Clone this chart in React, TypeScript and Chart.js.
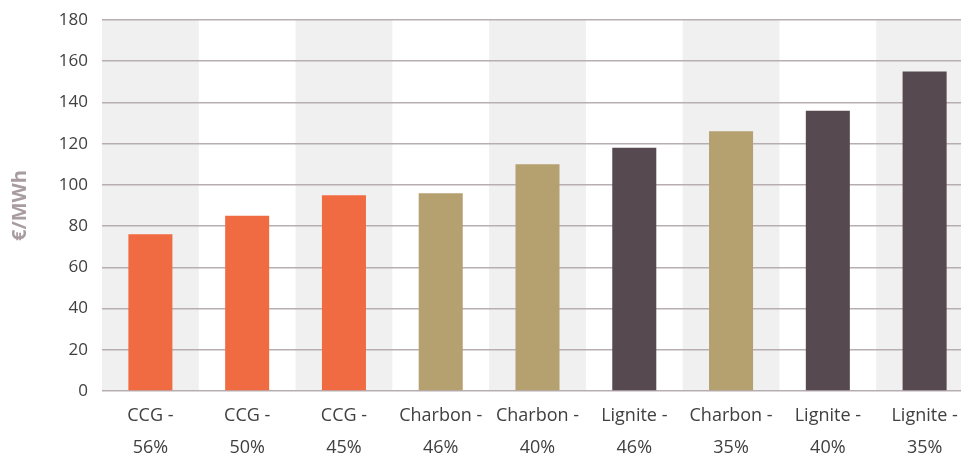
import React, { useEffect, useRef } from "react";
import { Chart, registerables } from "chart.js";

Chart.register(...registerables);

const categories: string[][] = [
  ["CCG -", "56%"],
  ["CCG -", "50%"],
  ["CCG -", "45%"],
  ["Charbon -", "46%"],
  ["Charbon -", "40%"],
  ["Lignite -", "46%"],
  ["Charbon -", "35%"],
  ["Lignite -", "40%"],
  ["Lignite -", "35%"],
];
const costs: number[] = [76, 85, 95, 96, 110, 118, 126, 136, 155];
const fuels: string[] = ["CCG", "CCG", "CCG", "Charbon", "Charbon", "Lignite", "Charbon", "Lignite", "Lignite"];
const fuelColors: Record<string, string> = {
  CCG: "#F06B42",
  Charbon: "#B5A16F",
  Lignite: "#574950",
};
const yTicks: number[] = [0, 20, 40, 60, 80, 100, 120, 140, 160, 180];

// Alternating grey column bands behind each category
const bandsPlugin = {
  id: "bands",
  beforeDraw(chart: any) {
    const { ctx, chartArea, scales } = chart;
    const x = scales.x;
    const n = chart.data.labels.length;
    const w = (chartArea.right - chartArea.left) / n;
    ctx.save();
    ctx.fillStyle = "#F0F0F0";
    for (let i = 0; i < n; i += 2) {
      const cx = x.getPixelForValue(i);
      ctx.fillRect(cx - w / 2, chartArea.top, w, chartArea.bottom - chartArea.top);
    }
    ctx.restore();
  },
};

export default function App() {
  const ref = useRef<HTMLCanvasElement>(null);

  useEffect(() => {
    if (!ref.current) return;
    const chart = new Chart(ref.current, {
      type: "bar",
      data: {
        labels: categories,
        datasets: [
          {
            data: costs,
            backgroundColor: fuels.map((f) => fuelColors[f]),
            barPercentage: 0.455,
            categoryPercentage: 1,
          },
        ],
      },
      plugins: [bandsPlugin],
      options: {
        animation: false,
        responsive: false,
        layout: { padding: { top: 20, right: 0, left: 8, bottom: 0 } },
        plugins: { legend: { display: false }, tooltip: { enabled: false } },
        scales: {
          x: {
            grid: { display: false },
            border: { display: false },
            ticks: {
              color: "#404040",
              font: { family: "Open Sans", size: 18, lineHeight: 1.78 },
              padding: 1,
              maxRotation: 0,
              autoSkip: false,
            },
            afterFit: (s: any) => {
              s.height = 64;
            },
          },
          y: {
            min: 0,
            max: 180,
            afterBuildTicks: (s: any) => {
              s.ticks = yTicks.map((v) => ({ value: v }));
            },
            grid: { color: "#B8ADB0", lineWidth: 1.5, drawTicks: false },
            border: { display: false },
            ticks: {
              color: "#404040",
              font: { family: "Open Sans", size: 17 },
              padding: 14,
            },
            title: {
              display: true,
              text: "€/MWh",
              color: "#A99CA1",
              font: { family: "Open Sans", size: 20, weight: "bold" },
              padding: 0,
            },
            afterFit: (s: any) => {
              s.width = 94;
              s.paddingTop = 0;
              s.paddingBottom = 0;
            },
          },
        },
      },
    });
    return () => chart.destroy();
  }, []);

  return (
    <div style={{ position: "fixed", left: 0, top: 0, width: 961, height: 455, overflow: "hidden", background: "#fff" }}>
      <canvas ref={ref} width={973} height={455} style={{ display: "block" }} />
    </div>
  );
}
